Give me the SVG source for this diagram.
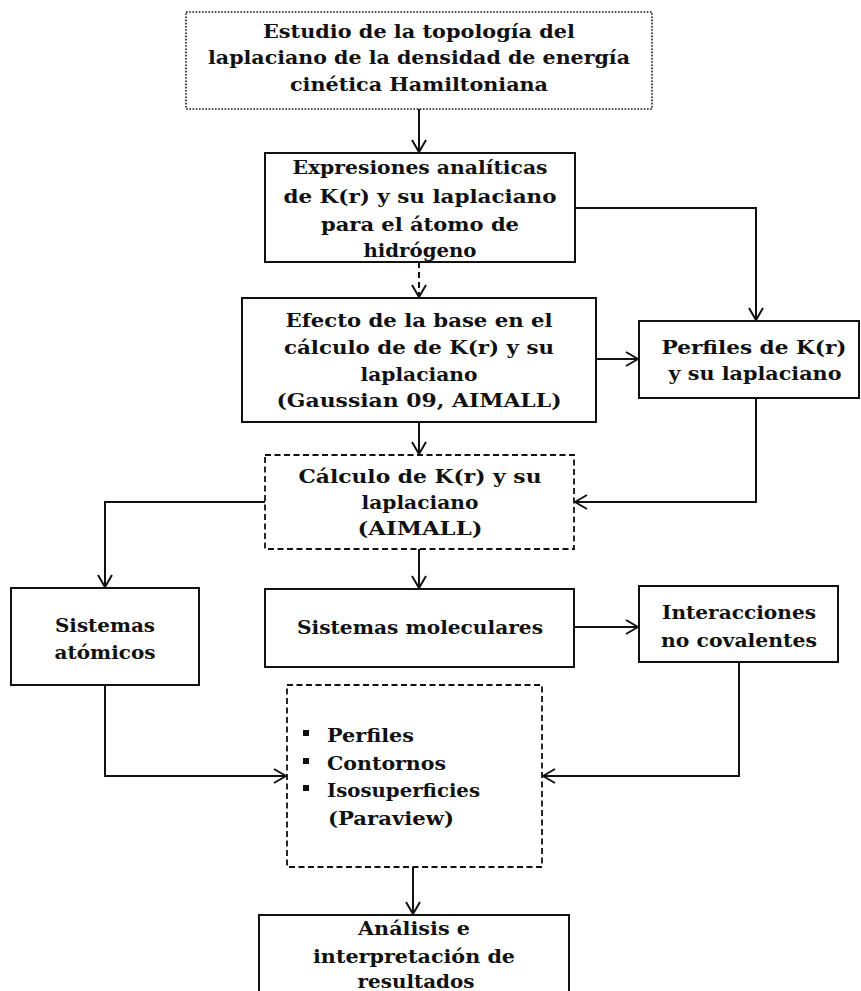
<svg xmlns="http://www.w3.org/2000/svg" width="861" height="991" viewBox="0 0 861 991">
<style>
text{font-family:"DejaVu Serif","Liberation Serif",serif;font-weight:bold;font-size:18px;fill:#111}
.c{text-anchor:middle}
.box{fill:#fff;stroke:#111;stroke-width:2}
.dot{fill:#fff;stroke:#111;stroke-width:1.6;stroke-dasharray:1.6 1.6}
.dash{fill:#fff;stroke:#111;stroke-width:1.8;stroke-dasharray:6 3.5}
.ln{fill:none;stroke:#111;stroke-width:2}
.dl{fill:none;stroke:#111;stroke-width:2;stroke-dasharray:6 4}
</style>
<defs>
<marker id="ah" viewBox="0 0 14 16" refX="13" refY="8" markerWidth="14" markerHeight="16" markerUnits="userSpaceOnUse" orient="auto">
<path d="M1,1 L13,8 L1,15" fill="none" stroke="#111" stroke-width="2"/>
</marker>
</defs>
<rect width="861" height="991" fill="#fff"/>
<g id="connectors">
<path class="ln" d="M419,109 V152" marker-end="url(#ah)"/>
<path class="ln" d="M575,208 H756 V320" marker-end="url(#ah)"/>
<path class="dl" d="M419,262 V297" marker-end="url(#ah)"/>
<path class="ln" d="M596,359 H638" marker-end="url(#ah)"/>
<path class="ln" d="M419,422 V454" marker-end="url(#ah)"/>
<path class="ln" d="M756,398 V502 H575" marker-end="url(#ah)"/>
<path class="ln" d="M265,502 H105 V587" marker-end="url(#ah)"/>
<path class="ln" d="M419,549 V588" marker-end="url(#ah)"/>
<path class="ln" d="M574,627 H638" marker-end="url(#ah)"/>
<path class="ln" d="M105,685 V776 H286" marker-end="url(#ah)"/>
<path class="ln" d="M739,662 V776 H543" marker-end="url(#ah)"/>
<path class="ln" d="M413,867 V914" marker-end="url(#ah)"/>
</g>
<g id="n-estudio">
<rect class="dot" x="186" y="12" width="466" height="97"/>
<text class="c" x="419" y="38" textLength="312" lengthAdjust="spacingAndGlyphs">Estudio de la topología del</text>
<text class="c" x="419" y="64" textLength="422" lengthAdjust="spacingAndGlyphs">laplaciano de la densidad de energía</text>
<text class="c" x="419" y="91" textLength="258" lengthAdjust="spacingAndGlyphs">cinética Hamiltoniana</text>
</g>
<g id="n-expresiones">
<rect class="box" x="265" y="153" width="310" height="109"/>
<text class="c" x="420" y="174" textLength="255" lengthAdjust="spacingAndGlyphs">Expresiones analíticas</text>
<text class="c" x="420" y="203" textLength="273" lengthAdjust="spacingAndGlyphs">de K(r) y su laplaciano</text>
<text class="c" x="420" y="231" textLength="198" lengthAdjust="spacingAndGlyphs">para el átomo de</text>
<text class="c" x="420" y="257" textLength="113" lengthAdjust="spacingAndGlyphs">hidrógeno</text>
</g>
<g id="n-efecto">
<rect class="box" x="242" y="298" width="354" height="124"/>
<text class="c" x="419" y="327" textLength="267" lengthAdjust="spacingAndGlyphs">Efecto de la base en el</text>
<text class="c" x="419" y="354" textLength="270" lengthAdjust="spacingAndGlyphs">cálculo de de K(r) y su</text>
<text class="c" x="419" y="381" textLength="117" lengthAdjust="spacingAndGlyphs">laplaciano</text>
<text class="c" x="419" y="407" textLength="285" lengthAdjust="spacingAndGlyphs">(Gaussian 09, AIMALL)</text>
</g>
<g id="n-perfiles">
<rect class="box" x="639" y="321" width="220" height="77"/>
<text class="c" x="754" y="354" textLength="185" lengthAdjust="spacingAndGlyphs">Perfiles de K(r)</text>
<text class="c" x="755" y="380" textLength="173" lengthAdjust="spacingAndGlyphs">y su laplaciano</text>
</g>
<g id="n-calculo">
<rect class="dash" x="265" y="455" width="309" height="94"/>
<text class="c" x="420" y="483" textLength="243" lengthAdjust="spacingAndGlyphs">Cálculo de K(r) y su</text>
<text class="c" x="420" y="509" textLength="117" lengthAdjust="spacingAndGlyphs">laplaciano</text>
<text class="c" x="420" y="535" textLength="125" lengthAdjust="spacingAndGlyphs">(AIMALL)</text>
</g>
<g id="n-atomicos">
<rect class="box" x="11" y="588" width="188" height="97"/>
<text class="c" x="105" y="632" textLength="100" lengthAdjust="spacingAndGlyphs">Sistemas</text>
<text class="c" x="105" y="659" textLength="101" lengthAdjust="spacingAndGlyphs">atómicos</text>
</g>
<g id="n-moleculares">
<rect class="box" x="265" y="589" width="309" height="78"/>
<text class="c" x="420" y="634" textLength="246" lengthAdjust="spacingAndGlyphs">Sistemas moleculares</text>
</g>
<g id="n-interacciones">
<rect class="box" x="639" y="586" width="199" height="76"/>
<text class="c" x="739" y="619" textLength="154" lengthAdjust="spacingAndGlyphs">Interacciones</text>
<text class="c" x="739" y="647" textLength="156" lengthAdjust="spacingAndGlyphs">no covalentes</text>
</g>
<g id="n-visualizacion">
<rect class="dash" x="287" y="685" width="255" height="182"/>
<rect x="303" y="730" width="6" height="6" fill="#111"/>
<rect x="303" y="758" width="6" height="6" fill="#111"/>
<rect x="303" y="785" width="6" height="6" fill="#111"/>
<text x="327" y="742" textLength="87" lengthAdjust="spacingAndGlyphs">Perfiles</text>
<text x="327" y="770" textLength="119" lengthAdjust="spacingAndGlyphs">Contornos</text>
<text x="327" y="797" textLength="153" lengthAdjust="spacingAndGlyphs">Isosuperficies</text>
<text x="328" y="825" textLength="126" lengthAdjust="spacingAndGlyphs">(Paraview)</text>
</g>
<g id="n-analisis">
<rect class="box" x="259" y="915" width="310" height="100"/>
<text class="c" x="414" y="935" textLength="112" lengthAdjust="spacingAndGlyphs">Análisis e</text>
<text class="c" x="414" y="963" textLength="202" lengthAdjust="spacingAndGlyphs">interpretación de</text>
<text class="c" x="416" y="988" textLength="117" lengthAdjust="spacingAndGlyphs">resultados</text>
</g>
</svg>
